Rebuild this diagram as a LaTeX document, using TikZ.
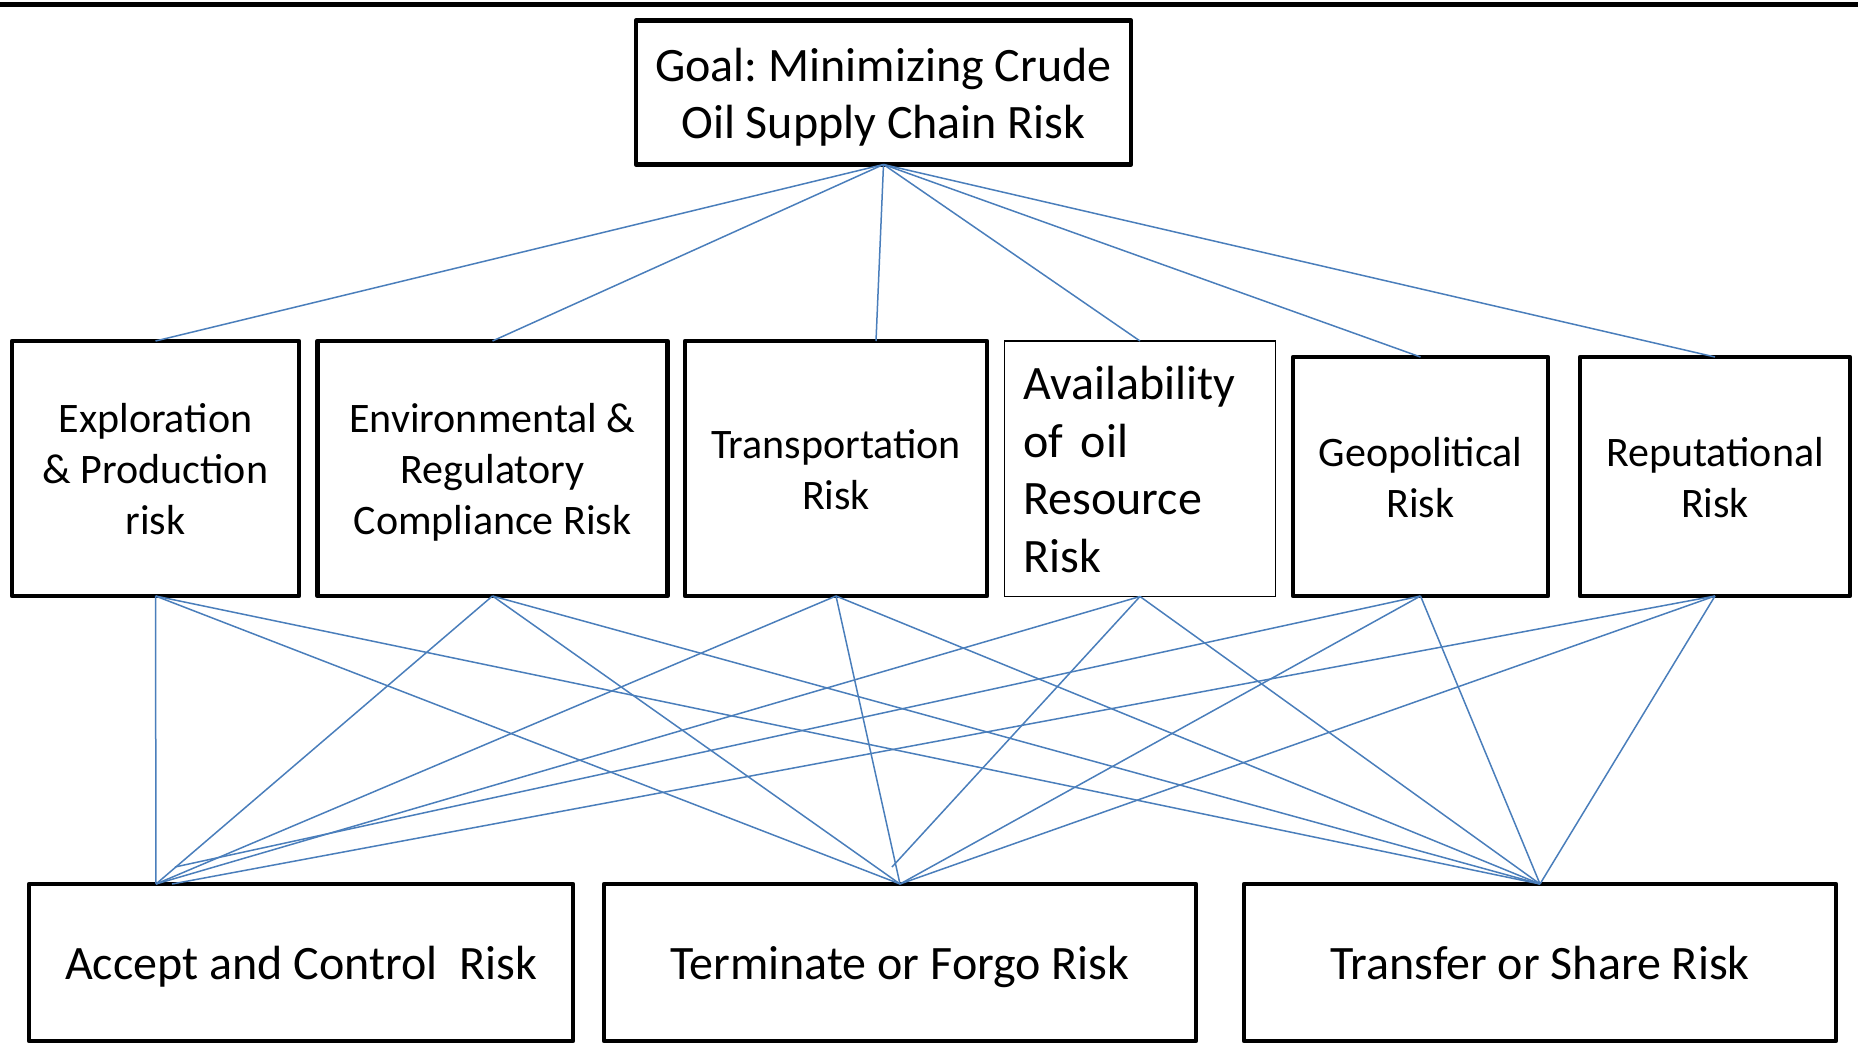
\documentclass[tikz,border=0pt]{standalone}
\usepackage{fontspec}
\setmainfont{Carlito}
\usetikzlibrary{calc}
\definecolor{linkblue}{RGB}{74,126,187}
\frenchspacing
% line box strut: one baselineskip tall, baseline at 80% of it
\newcommand\ppstrut{\rule[-0.2\baselineskip]{0pt}{\baselineskip}}

\begin{document}
\begin{tikzpicture}[x=0.5pt,y=-0.5pt,
  box/.style={draw=black, line width=2.25pt, line join=round, inner sep=0pt, outer sep=0pt, align=center},
  thinbox/.style={draw=black, line width=0.75pt, inner sep=0pt, outer sep=0pt},
  bigtext/.style={font=\fontsize{24}{28.5}\selectfont},
  availtext/.style={font=\fontsize{24}{28.8}\selectfont},
  midtext/.style={font=\fontsize{21}{25.5}\selectfont},
  link/.style={draw=linkblue, line width=0.75pt}
]
\useasboundingbox (0,0) rectangle (1858,1044);

% rule along the top edge
\draw[line width=2.8pt] (0,4.5) -- (1858,4.5);

% goal
\node[box, bigtext, minimum width=247.5pt, minimum height=72pt] (goal) at (883.5,92.5)
  {\ppstrut Goal: Minimizing Crude\\ Oil Supply Chain Risk\ppstrut};

% risk categories
\node[box, midtext, minimum width=143.5pt, minimum height=127.5pt] (expl) at (155.5,468.5)
  {\ppstrut Exploration\\ \& Production\\ risk\ppstrut};
\node[box, midtext, minimum width=175pt, minimum height=127.5pt] (env) at (492.5,468.5)
  {\ppstrut Environmental \&\\ Regulatory\\ Compliance Risk\ppstrut};
\node[box, midtext, minimum width=151pt, minimum height=127.5pt] (trans) at (836,468.5)
  {\ppstrut Transportation\\ Risk\ppstrut};
\node[thinbox, availtext, minimum width=135.5pt, minimum height=127.75pt, text width=116.5pt, align=left] (avail) at (1140,468.75)
  {\ppstrut Availability\\ of\hspace{0.36em}oil\\ Resource\\ Risk\ppstrut};
\node[box, midtext, minimum width=127.5pt, minimum height=119.5pt] (geo) at (1420.5,476.5)
  {\ppstrut Geopolitical\\ Risk\ppstrut};
\node[box, midtext, minimum width=135pt, minimum height=119.5pt] (rep) at (1715,476.5)
  {\ppstrut Reputational\\ Risk\ppstrut};

% responses
\node[box, bigtext, minimum width=272pt, minimum height=78.5pt] (accept) at (301,962.5)
  {\ppstrut Accept and Control\ \ Risk\ppstrut};
\node[box, bigtext, minimum width=296pt, minimum height=78.5pt] (term) at (900,962.5)
  {\ppstrut Terminate or Forgo Risk\ppstrut};
\node[box, bigtext, minimum width=296pt, minimum height=78.5pt] (transfer) at (1540,962.5)
  {\ppstrut Transfer or Share Risk\ppstrut};

% connector end points
\coordinate (transtop) at ($(trans.north)+(40,0)$);
\coordinate (acceptA) at ($(accept.north west)+(127,0)$);
\coordinate (acceptB) at ($(accept.north west)+(143,0)$);
\coordinate (acceptC) at ($(accept.north west)+(146,-17)$);
\coordinate (termC) at ($(term.north)+(-8,-17)$);

% goal to categories
\draw[link] (goal.south) -- (expl.north);
\draw[link] (goal.south) -- (env.north);
\draw[link] (goal.south) -- (transtop);
\draw[link] (goal.south) -- (avail.north);
\draw[link] (goal.south) -- (geo.north);
\draw[link] (goal.south) -- (rep.north);

% categories to responses
\foreach \m in {expl,env,trans,avail}
  \draw[link] (\m.south) -- (acceptA);
\draw[link] (geo.south) -- (acceptC);
\draw[link] (rep.south) -- (acceptB);

\foreach \m in {expl,env,trans,geo,rep}
  \draw[link] (\m.south) -- (term.north);
\draw[link] (avail.south) -- (termC);

\foreach \m in {expl,env,trans,avail,geo,rep}
  \draw[link] (\m.south) -- (transfer.north);
\end{tikzpicture}
\end{document}
